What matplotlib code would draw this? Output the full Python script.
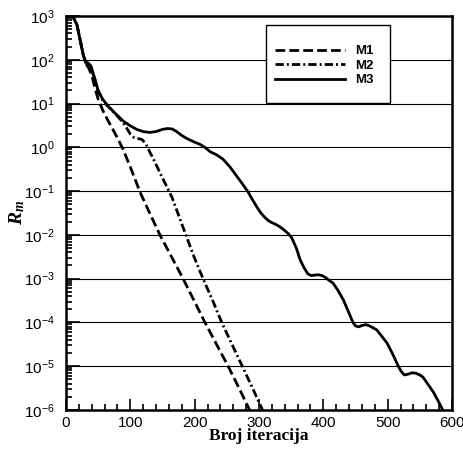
import numpy as np
import matplotlib
matplotlib.use("Agg")
import matplotlib.pyplot as plt
from matplotlib.patches import Rectangle
from matplotlib.ticker import FixedLocator, MultipleLocator, NullFormatter

plt.rcParams['font.family'] = ['Liberation Sans', 'DejaVu Sans']
plt.rcParams['mathtext.fontset'] = 'custom'
plt.rcParams['mathtext.it'] = 'Liberation Serif:bold:italic'
plt.rcParams['mathtext.rm'] = 'Liberation Sans'
plt.rcParams['lines.scale_dashes'] = False

# iteration numbers and log10(R_m)
m1_x = [8, 12, 17, 22, 27, 31, 35, 40, 45, 50, 57, 65, 75, 88, 100, 115,
        130, 146, 164, 182, 199, 216, 234, 252, 269, 287]
m1_exp = [3.1, 2.95, 2.8, 2.45, 2.1, 1.9, 1.82, 1.65, 1.35, 1.1, 0.85, 0.62,
          0.35, -0.02, -0.45, -1.02, -1.5, -2.0, -2.5, -3.0, -3.5, -4.0,
          -4.5, -5.0, -5.5, -6.05]

m2_x = [8, 12, 17, 22, 27, 31, 35, 40, 45, 50, 57, 65, 75, 88, 94, 100, 106,
        112, 118, 124, 130, 138, 146, 155, 165, 175, 185, 199, 213, 228, 242,
        258, 274, 290, 307]
m2_exp = [3.1, 2.95, 2.8, 2.45, 2.1, 1.92, 1.86, 1.75, 1.55, 1.28, 1.08, 0.94,
          0.79, 0.58, 0.45, 0.3, 0.22, 0.2, 0.18, 0.08, -0.1, -0.33, -0.58,
          -0.85, -1.15, -1.55, -1.95, -2.5, -3.0, -3.5, -4.0, -4.5, -5.0,
          -5.5, -6.05]

m3_x = [8, 12, 17, 22, 27, 31, 35, 39, 44, 50, 57, 65, 75, 89, 100, 110,
        120, 130, 140, 150, 158, 165, 172, 180, 188, 198, 208, 216, 224, 234,
        244, 255, 266, 275, 283, 290, 297, 303, 309, 315, 320, 326, 333, 340,
        346, 351, 358, 364, 370, 376, 381, 386, 392, 398, 404, 410, 415, 422,
        431, 438, 446, 450, 455, 460, 466, 472, 478, 483, 490, 499, 507, 516,
        521, 526, 532, 538, 544, 550, 555, 562, 571, 578, 584, 590]
m3_exp = [3.1, 2.95, 2.8, 2.45, 2.1, 1.95, 1.92, 1.85, 1.6, 1.3, 1.1, 0.95,
          0.8, 0.6, 0.49, 0.41, 0.36, 0.34, 0.36, 0.41, 0.43, 0.42, 0.36,
          0.27, 0.2, 0.13, 0.07, 0.0, -0.1, -0.17, -0.27, -0.45, -0.67, -0.85,
          -1.02, -1.2, -1.37, -1.5, -1.6, -1.68, -1.72, -1.76, -1.82, -1.9,
          -1.98, -2.07, -2.3, -2.57, -2.75, -2.89, -2.93, -2.92, -2.91, -2.93,
          -2.98, -3.05, -3.1, -3.25, -3.48, -3.72, -4.0, -4.08, -4.1, -4.07,
          -4.05, -4.08, -4.13, -4.17, -4.3, -4.47, -4.7, -4.98, -5.12, -5.2,
          -5.18, -5.15, -5.16, -5.2, -5.25, -5.4, -5.59, -5.78, -5.95, -6.15]

labels = ['M1', 'M2', 'M3']
decades = np.arange(-6, 4)

fig = plt.figure(figsize=(4.64, 4.49), dpi=100)
ax = fig.add_axes([66 / 464, 1 - 410 / 449, 386 / 464, 394 / 449])

ax.plot(m1_x, 10.0 ** np.array(m1_exp), color='k', lw=2.0,
        linestyle=(0, (7, 3)), label=labels[0])
ax.plot(m2_x, 10.0 ** np.array(m2_exp), color='k', lw=2.0,
        linestyle=(0, (6, 2.2, 1.4, 2.2)), label=labels[1])
ax.plot(m3_x, 10.0 ** np.array(m3_exp), color='k', lw=2.0,
        linestyle='-', label=labels[2])

ax.set_yscale('log')
ax.set_xlim(0, 600)
ax.set_ylim(1e-6, 1e3)

ax.xaxis.set_major_locator(MultipleLocator(100))
ax.xaxis.set_minor_locator(MultipleLocator(20))
ax.yaxis.set_major_locator(FixedLocator(10.0 ** decades))
minors = [m * 10.0 ** d for d in decades[:-1] for m in range(2, 10)]
ax.yaxis.set_minor_locator(FixedLocator(minors))
ax.yaxis.set_minor_formatter(NullFormatter())

ax.tick_params(which='both', direction='in', top=False, right=False,
               labelsize=11, width=1.2, color='k')
ax.tick_params(which='major', length=8)
ax.tick_params(which='minor', length=4)
ax.tick_params(axis='y', which='major', length=10, pad=8)
ax.tick_params(axis='x', which='major', pad=4)

for s in ax.spines.values():
    s.set_linewidth(1.8)

ax.yaxis.grid(True, which='major', color='k', lw=0.8)
ax.set_axisbelow(True)

ax.set_xlabel('Broj iteracija', family='Liberation Serif', fontweight='bold',
              fontsize=12.5, labelpad=-1)
ax.set_ylabel(r'$R_m$', fontsize=14)
ax.yaxis.set_label_coords(-0.102, 0.5)

# legend frame drawn as its own box, entries placed inside without a frame
box = Rectangle((266 / 464, 1 - 103 / 449), 124 / 464, 78 / 449,
                transform=fig.transFigure, facecolor='white', edgecolor='k',
                lw=1.0, zorder=4, clip_on=False)
ax.add_patch(box)
leg = ax.legend(loc='upper left', bbox_to_anchor=(275 / 464, 1 - 45 / 449),
                bbox_transform=fig.transFigure, frameon=False,
                handlelength=5.3, handletextpad=0.75,
                labelspacing=0.18, borderpad=0, borderaxespad=0,
                prop={'family': 'Liberation Sans', 'weight': 'bold', 'size': 9.5})
leg.set_zorder(5)

fig.savefig('out.png', dpi=100)
